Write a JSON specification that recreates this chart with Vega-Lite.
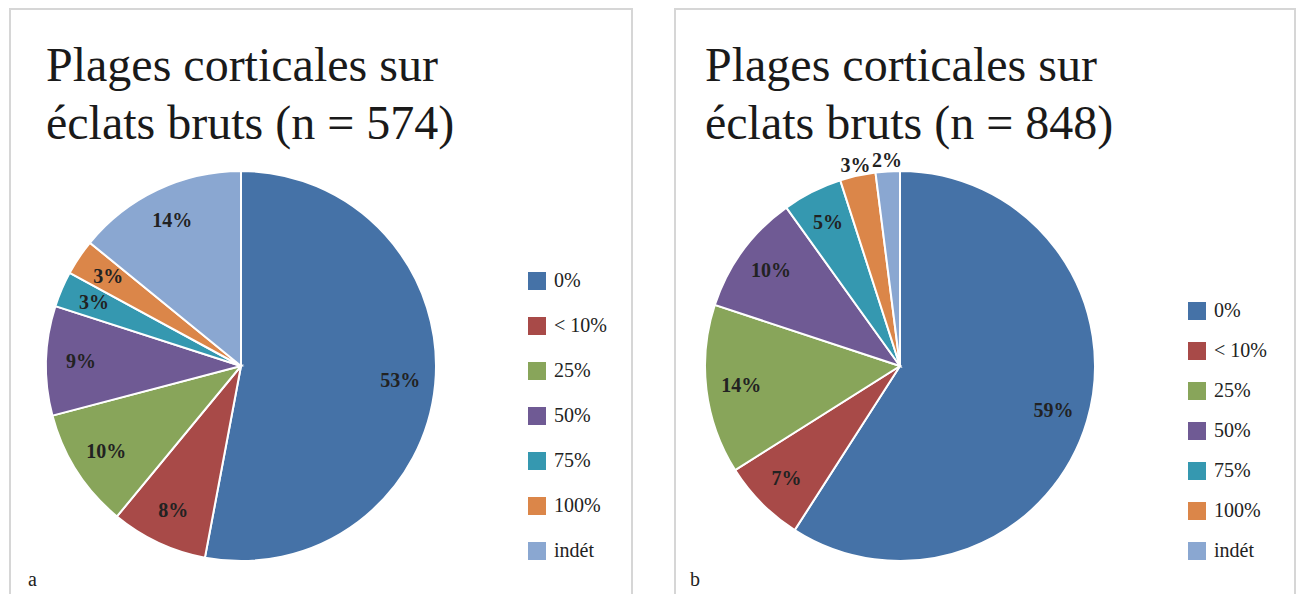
{
  "$schema": "https://vega.github.io/schema/vega-lite/v6.json",
  "padding": {"left": 9, "top": 8, "right": 6, "bottom": 0},
  "background": "white",
  "spacing": 41,
  "config": {"font": "Liberation Serif", "view": {"fill": "white", "stroke": "#d6d6d6", "strokeWidth": 2}},
  "resolve": {"scale": {"color": "independent", "theta": "independent"}, "legend": {"color": "independent"}},
  "hconcat": [
    {
      "width": 622,
      "height": 590,
      "view": {"fill": "white", "stroke": "#d6d6d6", "strokeWidth": 2},
      "data": {"values": [
        {"i": 1, "cat": "0%", "n": 304, "pct": "53%"},
        {"i": 2, "cat": "< 10%", "n": 46, "pct": "8%"},
        {"i": 3, "cat": "25%", "n": 57, "pct": "10%"},
        {"i": 4, "cat": "50%", "n": 52, "pct": "9%"},
        {"i": 5, "cat": "75%", "n": 17, "pct": "3%"},
        {"i": 6, "cat": "100%", "n": 17, "pct": "3%"},
        {"i": 7, "cat": "indét", "n": 81, "pct": "14%"}
      ]},
      "layer": [
        {
          "mark": {"type": "arc", "x": 231, "y": 357, "outerRadius": 195, "stroke": "white", "strokeWidth": 2},
          "encoding": {
            "theta": {"field": "n", "type": "quantitative", "stack": true},
            "order": {"field": "i", "type": "quantitative"},
            "color": {"field": "cat", "type": "nominal",
              "scale": {"domain": ["0%", "< 10%", "25%", "50%", "75%", "100%", "indét"], "range": ["#4572A7", "#A84A48", "#88A55A", "#6F5A94", "#3598B0", "#DB8649", "#8AA7D1"]},
              "legend": {"orient": "none", "legendX": 517, "legendY": 262, "title": null, "symbolType": "square", "symbolSize": 324, "symbolStrokeWidth": 0, "symbolOpacity": 1, "labelFontSize": 20, "labelFont": "Liberation Serif", "labelColor": "#222222", "labelOffset": 7, "rowPadding": 25}}
          }
        },
        {
          "mark": {"type": "text", "x": 231, "y": 357, "radius": 160, "fontSize": 20, "fontWeight": 600, "font": "Liberation Serif", "color": "#222222"},
          "encoding": {
            "theta": {"field": "n", "type": "quantitative", "stack": true},
            "order": {"field": "i", "type": "quantitative"},
            "text": {"field": "pct"}
          }
        },
        {
          "data": {"values": [{"t": "Plages corticales sur\néclats bruts (n = 574)"}]},
          "mark": {"type": "text", "x": 36, "y": 72, "align": "left", "baseline": "alphabetic", "lineBreak": "\n", "lineHeight": 58, "fontSize": 48, "font": "Liberation Serif", "color": "#1a1a1a"},
          "encoding": {"text": {"field": "t"}}
        },
        {
          "data": {"values": [{"t": "a"}]},
          "mark": {"type": "text", "x": 18, "y": 577, "align": "left", "baseline": "alphabetic", "fontSize": 20, "font": "Liberation Serif", "color": "#222222"},
          "encoding": {"text": {"field": "t"}}
        }
      ]
    },
    {
      "width": 620,
      "height": 590,
      "view": {"fill": "white", "stroke": "#d6d6d6", "strokeWidth": 2},
      "data": {"values": [
        {"i": 1, "cat": "0%", "n": 501, "pct": "59%"},
        {"i": 2, "cat": "< 10%", "n": 59, "pct": "7%"},
        {"i": 3, "cat": "25%", "n": 119, "pct": "14%"},
        {"i": 4, "cat": "50%", "n": 85, "pct": "10%"},
        {"i": 5, "cat": "75%", "n": 42, "pct": "5%"},
        {"i": 6, "cat": "100%", "n": 25, "pct": "3%"},
        {"i": 7, "cat": "indét", "n": 17, "pct": "2%"}
      ]},
      "layer": [
        {
          "mark": {"type": "arc", "x": 225, "y": 357, "outerRadius": 195, "stroke": "white", "strokeWidth": 2},
          "encoding": {
            "theta": {"field": "n", "type": "quantitative", "stack": true},
            "order": {"field": "i", "type": "quantitative"},
            "color": {"field": "cat", "type": "nominal",
              "scale": {"domain": ["0%", "< 10%", "25%", "50%", "75%", "100%", "indét"], "range": ["#4572A7", "#A84A48", "#88A55A", "#6F5A94", "#3598B0", "#DB8649", "#8AA7D1"]},
              "legend": {"orient": "none", "legendX": 512, "legendY": 292, "title": null, "symbolType": "square", "symbolSize": 324, "symbolStrokeWidth": 0, "symbolOpacity": 1, "labelFontSize": 20, "labelFont": "Liberation Serif", "labelColor": "#222222", "labelOffset": 7, "rowPadding": 20}}
          }
        },
        {
          "transform": [{"filter": "datum.n > 30"}],
          "mark": {"type": "text", "x": 225, "y": 357, "radius": 160, "fontSize": 20, "fontWeight": 600, "font": "Liberation Serif", "color": "#222222"},
          "encoding": {
            "theta": {"field": "n", "type": "quantitative", "stack": true},
            "order": {"field": "i", "type": "quantitative"},
            "text": {"field": "pct"}
          }
        },
        {
          "mark": {"type": "text", "x": 225, "y": 357, "radius": 205, "fontSize": 20, "fontWeight": 600, "font": "Liberation Serif", "color": "#222222"},
          "encoding": {
            "theta": {"field": "n", "type": "quantitative", "stack": true},
            "order": {"field": "i", "type": "quantitative"},
            "text": {"condition": {"test": "datum.n <= 30", "field": "pct"}, "value": ""}
          }
        },
        {
          "data": {"values": [{"t": "Plages corticales sur\néclats bruts (n = 848)"}]},
          "mark": {"type": "text", "x": 30, "y": 72, "align": "left", "baseline": "alphabetic", "lineBreak": "\n", "lineHeight": 58, "fontSize": 48, "font": "Liberation Serif", "color": "#1a1a1a"},
          "encoding": {"text": {"field": "t"}}
        },
        {
          "data": {"values": [{"t": "b"}]},
          "mark": {"type": "text", "x": 15, "y": 577, "align": "left", "baseline": "alphabetic", "fontSize": 20, "font": "Liberation Serif", "color": "#222222"},
          "encoding": {"text": {"field": "t"}}
        }
      ]
    }
  ]
}
